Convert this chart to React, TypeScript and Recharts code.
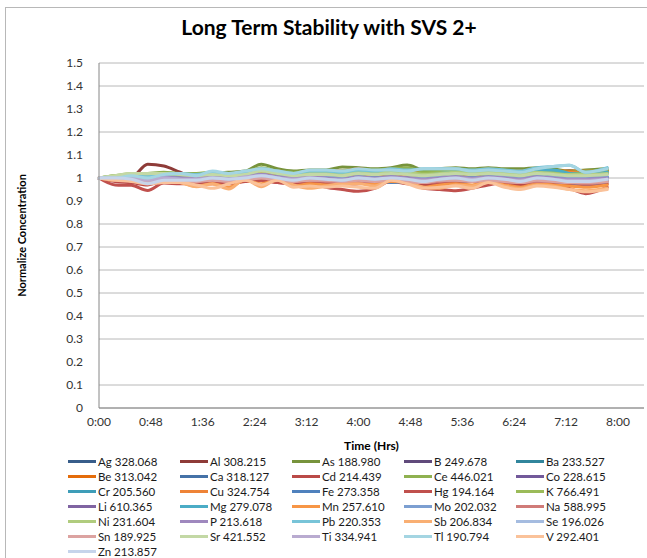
import React from 'react';
import { LineChart, Line, XAxis, YAxis, CartesianGrid } from 'recharts';

const timeMinutes = [0, 15, 30, 45, 60, 75, 90, 105, 120, 135, 150, 165, 180, 195, 210, 225, 240, 255, 270, 285, 300, 315, 330, 345, 360, 375, 390, 405, 420, 435, 450, 470];
const timeTicks = [0, 48, 96, 144, 192, 240, 288, 336, 384, 432, 480];
const timeTickLabels = ['0:00', '0:48', '1:36', '2:24', '3:12', '4:00', '4:48', '5:36', '6:24', '7:12', '8:00'];
const concentrationTicks = [0, 0.1, 0.2, 0.3, 0.4, 0.5, 0.6, 0.7, 0.8, 0.9, 1, 1.1, 1.2, 1.3, 1.4, 1.5];

const seriesNames = [
  'Ag 328.068', 'Al 308.215', 'As 188.980', 'B 249.678', 'Ba 233.527',
  'Be 313.042', 'Ca 318.127', 'Cd 214.439', 'Ce 446.021', 'Co 228.615',
  'Cr 205.560', 'Cu 324.754', 'Fe 273.358', 'Hg 194.164', 'K 766.491',
  'Li 610.365', 'Mg 279.078', 'Mn 257.610', 'Mo 202.032', 'Na 588.995',
  'Ni 231.604', 'P 213.618', 'Pb 220.353', 'Sb 206.834', 'Se 196.026',
  'Sn 189.925', 'Sr 421.552', 'Ti 334.941', 'Tl 190.794', 'V 292.401',
  'Zn 213.857',
];

const Ag = [1.000, 1.000, 0.990, 0.990, 1.000, 0.995, 1.000, 1.000, 0.990, 1.000, 1.010, 1.000, 0.990, 1.000, 1.000, 0.990, 0.990, 1.000, 1.010, 1.000, 0.990, 1.000, 1.000, 0.990, 1.000, 1.000, 0.990, 1.000, 1.000, 0.990, 0.990, 1.000];
const Al = [1.000, 1.000, 1.003, 1.060, 1.052, 1.025, 1.000, 1.000, 1.005, 1.010, 1.015, 1.010, 1.010, 1.015, 1.020, 1.025, 1.020, 1.020, 1.025, 1.020, 1.020, 1.025, 1.020, 1.025, 1.030, 1.025, 1.030, 1.030, 1.025, 1.030, 1.020, 1.030];
const As = [1.000, 1.005, 1.010, 1.015, 1.020, 1.020, 1.015, 1.020, 1.025, 1.030, 1.060, 1.040, 1.030, 1.035, 1.035, 1.048, 1.045, 1.040, 1.045, 1.056, 1.036, 1.040, 1.045, 1.040, 1.045, 1.040, 1.040, 1.045, 1.040, 1.030, 1.035, 1.040];
const B = [1.000, 1.000, 1.005, 0.990, 1.000, 1.000, 0.995, 1.000, 1.000, 1.005, 1.010, 1.000, 1.000, 1.000, 0.995, 1.000, 1.005, 1.000, 0.995, 1.000, 1.000, 1.000, 1.005, 1.000, 0.995, 1.000, 1.000, 1.000, 0.995, 1.000, 1.000, 1.000];
const Ba = [1.000, 1.000, 1.010, 1.000, 1.010, 1.010, 1.000, 1.010, 1.010, 1.020, 1.030, 1.020, 1.010, 1.020, 1.020, 1.010, 1.020, 1.020, 1.030, 1.020, 1.010, 1.020, 1.020, 1.010, 1.020, 1.020, 1.010, 1.020, 1.020, 1.030, 1.020, 1.020];
const Be = [1.000, 1.000, 1.010, 1.010, 1.020, 1.020, 1.010, 1.020, 1.020, 1.020, 1.030, 1.030, 1.020, 1.030, 1.030, 1.030, 1.040, 1.030, 1.040, 1.030, 1.030, 1.030, 1.030, 1.030, 1.040, 1.030, 1.030, 1.040, 1.030, 1.030, 1.030, 1.035];
const Ca = [1.000, 0.995, 1.000, 0.985, 1.000, 1.000, 0.990, 1.000, 0.995, 1.000, 1.010, 1.000, 0.990, 1.000, 1.000, 0.990, 1.000, 0.990, 0.980, 0.990, 1.000, 1.000, 0.990, 0.990, 1.000, 0.990, 0.990, 1.000, 0.990, 0.990, 0.980, 0.990];
const Cd = [1.000, 0.985, 0.980, 0.970, 0.985, 0.980, 0.975, 0.980, 0.975, 0.985, 0.990, 0.980, 0.975, 0.980, 0.975, 0.970, 0.975, 0.980, 0.985, 0.975, 0.970, 0.975, 0.980, 0.985, 0.980, 0.975, 0.970, 0.975, 0.980, 0.970, 0.965, 0.975];
const Ce = [1.000, 1.010, 1.015, 1.020, 1.025, 1.020, 1.020, 1.025, 1.020, 1.025, 1.045, 1.030, 1.025, 1.030, 1.025, 1.030, 1.035, 1.035, 1.040, 1.045, 1.030, 1.035, 1.040, 1.035, 1.040, 1.035, 1.030, 1.040, 1.035, 1.025, 1.030, 1.035];
const Co = [1.000, 1.000, 1.000, 0.995, 1.005, 1.000, 1.000, 1.005, 1.000, 1.005, 1.015, 1.005, 1.000, 1.005, 1.000, 1.000, 1.005, 1.000, 1.010, 1.000, 0.995, 1.000, 1.005, 1.000, 1.005, 1.000, 1.000, 1.005, 1.000, 1.000, 0.995, 1.000];
const Cr = [1.000, 1.005, 1.010, 1.000, 1.010, 1.005, 1.000, 1.010, 1.005, 1.010, 1.020, 1.010, 1.000, 1.010, 1.005, 1.000, 1.010, 1.000, 1.000, 0.990, 1.000, 1.005, 1.000, 1.000, 1.010, 1.000, 1.000, 1.010, 1.005, 1.000, 0.995, 1.005];
const Cu = [1.000, 1.000, 1.010, 1.000, 1.010, 1.010, 1.000, 1.010, 1.010, 1.015, 1.025, 1.015, 1.010, 1.020, 1.015, 1.010, 1.020, 1.015, 1.020, 1.015, 1.010, 1.015, 1.020, 1.015, 1.020, 1.020, 1.015, 1.020, 1.020, 1.025, 1.020, 1.020];
const Fe = [1.000, 1.000, 0.995, 0.980, 0.995, 0.990, 0.990, 1.000, 0.995, 1.000, 1.005, 1.000, 0.990, 0.995, 0.990, 0.980, 0.990, 0.985, 0.980, 0.985, 0.990, 0.995, 0.990, 0.985, 0.990, 0.990, 0.985, 0.990, 0.985, 0.980, 0.975, 0.985];
const Hg = [1.000, 0.970, 0.968, 0.946, 0.978, 0.975, 0.980, 0.975, 0.980, 0.985, 0.990, 0.980, 0.975, 0.980, 0.960, 0.950, 0.942, 0.955, 0.990, 1.000, 0.955, 0.950, 0.945, 0.955, 0.970, 0.980, 0.980, 0.980, 0.970, 0.955, 0.932, 0.960];
const K = [1.000, 1.010, 1.015, 1.010, 1.015, 1.010, 1.010, 1.015, 1.010, 1.015, 1.030, 1.020, 1.015, 1.020, 1.020, 1.025, 1.030, 1.025, 1.035, 1.025, 1.020, 1.025, 1.030, 1.025, 1.030, 1.025, 1.020, 1.030, 1.025, 1.020, 1.020, 1.025];
const Li = [1.000, 1.000, 1.005, 0.990, 1.000, 1.000, 0.995, 1.000, 1.000, 1.000, 1.010, 1.000, 0.995, 1.000, 0.995, 0.990, 1.000, 0.995, 1.000, 0.995, 0.990, 0.995, 1.000, 0.995, 1.000, 0.995, 0.990, 1.000, 0.995, 0.990, 0.990, 0.995];
const Mg = [1.000, 1.005, 1.010, 1.000, 1.015, 1.015, 1.010, 1.020, 1.010, 1.020, 1.035, 1.020, 1.010, 1.020, 1.020, 1.015, 1.025, 1.020, 1.030, 1.020, 1.010, 1.020, 1.025, 1.020, 1.025, 1.020, 1.015, 1.030, 1.035, 1.020, 1.015, 1.025];
const Mn = [1.000, 0.990, 0.990, 0.980, 0.985, 0.980, 0.965, 0.975, 0.960, 0.990, 0.975, 0.990, 0.965, 0.975, 0.970, 0.975, 0.980, 0.975, 0.985, 0.980, 0.960, 0.970, 0.975, 0.970, 0.980, 0.970, 0.960, 0.975, 0.970, 0.965, 0.960, 0.970];
const Mo = [1.000, 1.005, 1.005, 0.995, 1.005, 1.000, 1.000, 1.005, 1.000, 1.010, 1.015, 1.005, 1.000, 1.005, 1.005, 1.000, 1.005, 1.000, 1.005, 1.000, 1.000, 1.005, 1.005, 1.000, 1.005, 1.005, 1.000, 1.005, 1.005, 1.000, 1.000, 1.005];
const Na = [1.000, 0.990, 0.985, 0.975, 0.990, 0.985, 0.985, 0.990, 0.985, 0.990, 1.000, 0.990, 0.985, 0.990, 0.985, 0.980, 0.985, 0.985, 0.990, 0.985, 0.980, 0.985, 0.990, 0.985, 0.990, 0.985, 0.980, 0.985, 0.985, 0.980, 0.975, 0.985];
const Ni = [1.000, 1.010, 1.020, 1.015, 1.020, 1.015, 1.010, 1.015, 1.015, 1.020, 1.035, 1.025, 1.015, 1.020, 1.020, 1.020, 1.030, 1.025, 1.030, 1.025, 1.015, 1.020, 1.025, 1.020, 1.025, 1.020, 1.015, 1.025, 1.020, 1.015, 1.015, 1.020];
const P = [1.000, 1.000, 1.005, 0.995, 1.005, 1.000, 1.000, 1.005, 1.000, 1.005, 1.015, 1.005, 1.000, 1.005, 1.000, 0.995, 1.005, 1.000, 1.005, 1.000, 0.995, 1.000, 1.005, 1.000, 1.005, 1.000, 0.995, 1.005, 1.000, 0.995, 0.995, 1.000];
const Pb = [1.000, 1.005, 1.010, 1.005, 1.020, 1.020, 1.015, 1.025, 1.015, 1.025, 1.040, 1.030, 1.020, 1.030, 1.030, 1.025, 1.035, 1.030, 1.040, 1.035, 1.040, 1.040, 1.040, 1.035, 1.040, 1.035, 1.030, 1.045, 1.050, 1.055, 1.025, 1.045];
const Sb = [1.000, 0.995, 0.990, 0.985, 0.985, 0.980, 0.962, 0.975, 0.952, 0.995, 0.962, 0.995, 0.970, 0.955, 0.965, 0.975, 0.975, 0.965, 0.995, 0.985, 0.960, 0.955, 0.970, 0.965, 0.985, 0.965, 0.955, 0.970, 0.965, 0.950, 0.945, 0.955];
const Se = [1.000, 1.005, 1.000, 0.990, 1.000, 0.995, 0.990, 1.000, 0.995, 1.000, 1.010, 1.000, 0.990, 0.995, 0.995, 0.990, 1.000, 0.990, 0.995, 0.990, 0.985, 0.990, 0.995, 0.990, 0.995, 0.990, 0.985, 0.995, 0.990, 0.985, 0.985, 0.990];
const Sn = [1.000, 0.995, 0.990, 0.980, 0.990, 0.990, 0.985, 0.990, 0.985, 0.990, 1.000, 0.990, 0.985, 0.990, 0.990, 0.985, 0.990, 0.985, 0.990, 0.985, 0.980, 0.990, 0.990, 0.985, 0.990, 0.985, 0.980, 0.990, 0.985, 0.980, 0.980, 0.985];
const Sr = [1.000, 1.010, 1.020, 1.020, 1.020, 1.015, 1.010, 1.015, 1.010, 1.015, 1.030, 1.020, 1.010, 1.015, 1.015, 1.010, 1.020, 1.015, 1.020, 1.015, 1.010, 1.015, 1.020, 1.015, 1.020, 1.015, 1.010, 1.020, 1.015, 1.010, 1.010, 1.015];
const Ti = [1.000, 1.000, 1.000, 0.990, 1.000, 0.995, 0.995, 1.000, 0.995, 1.005, 1.010, 1.000, 0.995, 1.000, 0.995, 0.990, 1.000, 0.995, 1.000, 0.995, 0.990, 0.995, 1.000, 0.995, 1.000, 0.995, 0.990, 1.000, 0.995, 0.990, 0.990, 0.995];
const Tl = [1.000, 1.000, 1.010, 1.000, 1.015, 1.020, 1.010, 1.030, 1.020, 1.030, 1.040, 1.030, 1.020, 1.035, 1.035, 1.030, 1.040, 1.035, 1.035, 1.030, 1.040, 1.040, 1.040, 1.030, 1.035, 1.030, 1.025, 1.040, 1.050, 1.055, 1.025, 1.040];
const V = [1.000, 0.990, 0.985, 0.975, 0.980, 0.980, 0.970, 0.955, 0.975, 0.990, 0.970, 0.990, 0.960, 0.965, 0.960, 0.965, 0.960, 0.955, 0.990, 0.975, 0.955, 0.960, 0.965, 0.955, 0.980, 0.960, 0.950, 0.965, 0.960, 0.950, 0.940, 0.950];
const Zn = [1.000, 1.000, 0.995, 0.975, 0.990, 0.990, 0.990, 1.000, 0.995, 1.000, 1.010, 1.000, 0.990, 1.000, 0.995, 0.990, 1.000, 0.995, 1.000, 0.995, 0.985, 0.995, 1.000, 0.990, 1.000, 0.995, 0.985, 1.000, 0.995, 0.985, 0.985, 0.995];

const seriesValues = [Ag, Al, As, B, Ba, Be, Ca, Cd, Ce, Co, Cr, Cu, Fe, Hg, K, Li, Mg, Mn, Mo, Na, Ni, P, Pb, Sb, Se, Sn, Sr, Ti, Tl, V, Zn];

const seriesColors = [
  '#385D8A', '#8E3B38', '#77933C', '#604A7B', '#31859C',
  '#E46C0A', '#4572A7', '#BA4A47', '#8FB150', '#72599A',
  '#3E9DB8', '#EE8337', '#4F81BD', '#C0504D', '#9BBB59',
  '#8064A2', '#4BACC6', '#F79646', '#7C9FD1', '#D07B78',
  '#B0CC7E', '#9F88BE', '#78C4D8', '#F9AF73', '#A5BCE0',
  '#DCA3A1', '#C3D8A5', '#B9ABD0', '#A4D5E2', '#FAC29A',
  '#C6D4EB',
];

const data = timeMinutes.map((t, i) => {
  const row: Record<string, number> = { t };
  seriesValues.forEach((vals, s) => {
    row['s' + s] = vals[i];
  });
  return row;
});

const FONT = 'Lato, "Open Sans", sans-serif';

export default function App() {
  return (
    <div
      style={{
        position: 'absolute',
        left: 0,
        top: 0,
        width: 647,
        height: 558,
        overflow: 'hidden',
        background: '#ffffff',
        fontFamily: FONT,
      }}
    >
      <div
        style={{
          position: 'absolute',
          left: 5,
          top: 7,
          width: 700,
          height: 600,
          border: '1px solid #b8b8b8',
        }}
      />
      <div
        style={{
          position: 'absolute',
          left: 0,
          top: 13,
          width: 658,
          textAlign: 'center',
          fontSize: 21,
          fontWeight: 'bold',
          color: '#000',
          lineHeight: '28px',
        }}
      >
        Long Term Stability with SVS 2+
      </div>
      <div style={{ position: 'absolute', left: 0, top: 0 }}>
        <LineChart
          width={647}
          height={460}
          data={data}
          margin={{ top: 63, right: 3, bottom: 10, left: 22 }}
        >
          <CartesianGrid vertical={false} stroke="#b8b8b8" strokeWidth={1} />
          <XAxis
            dataKey="t"
            type="number"
            domain={[0, 504]}
            ticks={timeTicks}
            tickFormatter={(v: number) => timeTickLabels[timeTicks.indexOf(v)] ?? ''}
            axisLine={{ stroke: '#868686' }}
            tickLine={false}
            tickSize={0}
            tickMargin={9}
            height={42}
            tick={{ fontSize: 12, fill: '#333', fontFamily: FONT }}
            label={{
              value: 'Time (Hrs)',
              position: 'insideBottom',
              offset: 0,
              style: { fontWeight: 'bold', fontSize: 12, fill: '#000', fontFamily: FONT },
            }}
          />
          <YAxis
            type="number"
            domain={[0, 1.5]}
            ticks={concentrationTicks}
            tickFormatter={(v: number) => String(Number(v.toFixed(1)))}
            axisLine={{ stroke: '#868686' }}
            tickLine={false}
            tickSize={0}
            tickMargin={16}
            width={77}
            tick={{ fontSize: 12, fill: '#333', fontFamily: FONT }}
            label={{
              value: 'Normalize Concentration',
              angle: -90,
              position: 'insideLeft',
              offset: 0,
              style: { textAnchor: 'middle', fontWeight: 'bold', fontSize: 11, fill: '#000', fontFamily: FONT },
            }}
          />
          {seriesValues.map((_, s) => (
            <Line
              key={seriesNames[s]}
              dataKey={'s' + s}
              name={seriesNames[s]}
              type="monotone"
              stroke={seriesColors[s]}
              strokeWidth={3}
              strokeLinejoin="round"
              strokeLinecap="round"
              dot={false}
              isAnimationActive={false}
            />
          ))}
        </LineChart>
      </div>
      <div
        style={{
          position: 'absolute',
          left: 68,
          top: 454,
          display: 'grid',
          gridTemplateColumns: 'repeat(5, 112px)',
        }}
      >
        {seriesNames.map((n, i) => (
          <div key={n} style={{ display: 'flex', alignItems: 'center', height: 15 }}>
            <span
              style={{
                display: 'inline-block',
                width: 28,
                height: 3,
                background: seriesColors[i],
                marginRight: 2,
              }}
            />
            <span style={{ fontSize: 11.5, color: '#1a1a1a', whiteSpace: 'nowrap', lineHeight: '15px' }}>{n}</span>
          </div>
        ))}
      </div>
    </div>
  );
}
